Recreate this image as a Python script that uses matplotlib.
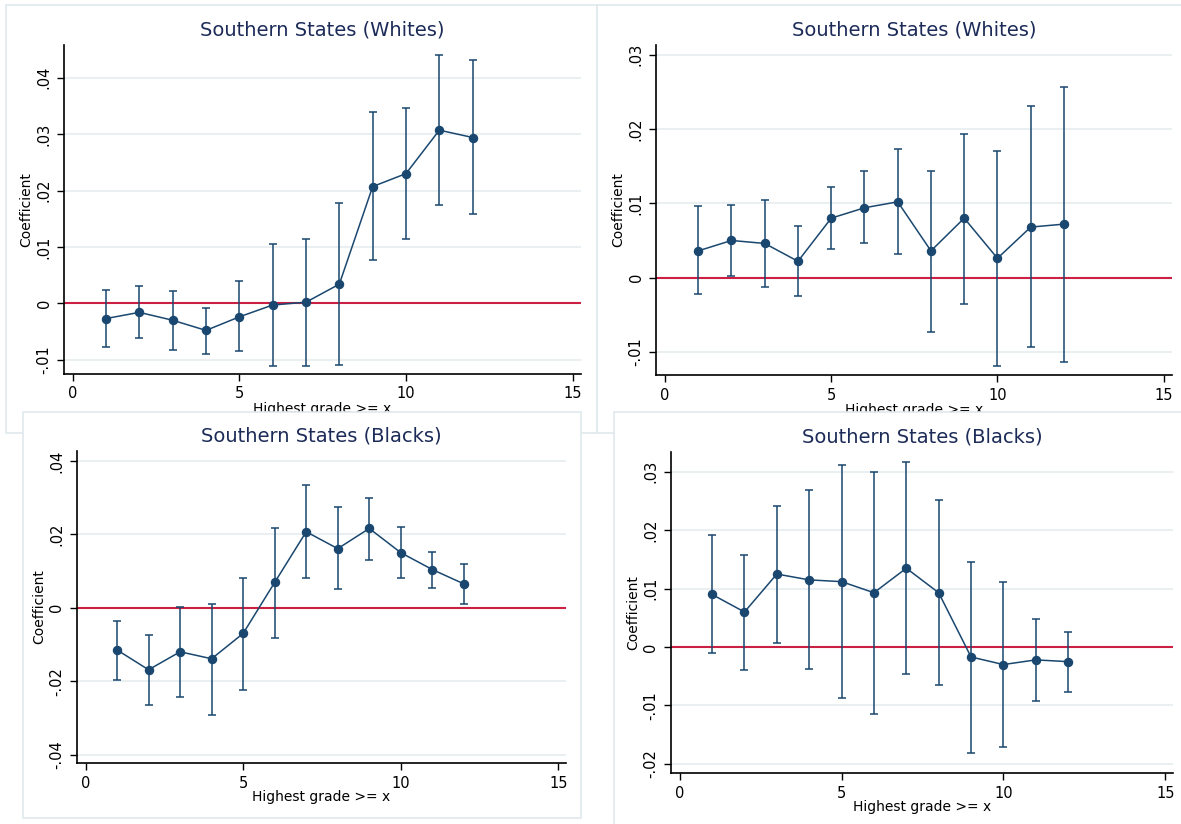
import matplotlib
matplotlib.use("Agg")
import matplotlib.pyplot as plt
from matplotlib.patches import Rectangle

# ---------------- data ----------------
grades = [1, 2, 3, 4, 5, 6, 7, 8, 9, 10, 11, 12]

# top-left: Southern States (Whites)
tl_coef = [-0.0027, -0.0016, -0.0030, -0.0048, -0.0024, -0.0003, 0.0002, 0.0034, 0.0207, 0.0230, 0.0307, 0.0294]
tl_hi   = [0.0024, 0.0030, 0.0021, -0.0008, 0.0040, 0.0106, 0.0114, 0.0178, 0.0339, 0.0347, 0.0440, 0.0432]
tl_lo   = [-0.0077, -0.0061, -0.0082, -0.0090, -0.0085, -0.0111, -0.0111, -0.0109, 0.0077, 0.0114, 0.0175, 0.0159]

# top-right: Southern States (Whites)
tr_coef = [0.0036, 0.0050, 0.0046, 0.0022, 0.0080, 0.0094, 0.0102, 0.0036, 0.0080, 0.0026, 0.0068, 0.0072]
tr_hi   = [0.0096, 0.0098, 0.0104, 0.0070, 0.0122, 0.0144, 0.0173, 0.0144, 0.0193, 0.0170, 0.0231, 0.0257]
tr_lo   = [-0.0022, 0.0002, -0.0012, -0.0025, 0.0038, 0.0046, 0.0032, -0.0073, -0.0035, -0.0119, -0.0093, -0.0113]

# bottom-left: Southern States (Blacks)
bl_coef = [-0.0115, -0.0169, -0.0120, -0.0139, -0.0070, 0.0069, 0.0207, 0.0161, 0.0216, 0.0150, 0.0104, 0.0065]
bl_hi   = [-0.0035, -0.0074, 0.0003, 0.0011, 0.0081, 0.0216, 0.0334, 0.0274, 0.0300, 0.0219, 0.0153, 0.0120]
bl_lo   = [-0.0197, -0.0266, -0.0243, -0.0293, -0.0223, -0.0082, 0.0081, 0.0050, 0.0130, 0.0081, 0.0053, 0.0011]

# bottom-right: Southern States (Blacks)
br_coef = [0.0090, 0.0060, 0.0125, 0.0115, 0.0112, 0.0093, 0.0135, 0.0093, -0.0017, -0.0030, -0.0022, -0.0025]
br_hi   = [0.0192, 0.0157, 0.0242, 0.0269, 0.0312, 0.0300, 0.0317, 0.0252, 0.0145, 0.0112, 0.0048, 0.0026]
br_lo   = [-0.0010, -0.0039, 0.0007, -0.0037, -0.0087, -0.0114, -0.0047, -0.0065, -0.0182, -0.0171, -0.0092, -0.0077]

title_whites = "Southern States (Whites)"
title_blacks = "Southern States (Blacks)"
xlabel_text = "Highest grade >= x"
ylabel_text = "Coefficient"

xtick_vals = [0, 5, 10, 15]
xtick_labels = ["0", "5", "10", "15"]

tl_yticks = [-0.01, 0, 0.01, 0.02, 0.03, 0.04]
tl_ylabels = ["-.01", "0", ".01", ".02", ".03", ".04"]
tr_yticks = [-0.01, 0, 0.01, 0.02, 0.03]
tr_ylabels = ["-.01", "0", ".01", ".02", ".03"]
bl_yticks = [-0.04, -0.02, 0, 0.02, 0.04]
bl_ylabels = ["-.04", "-.02", "0", ".02", ".04"]
br_yticks = [-0.02, -0.01, 0, 0.01, 0.02, 0.03]
br_ylabels = ["-.02", "-.01", "0", ".01", ".02", ".03"]

# ---------------- style ----------------
W, H = 1181, 824
NAVY = "#1a476f"
TITLE_C = "#1c2b58"
RED = "#cc1f44"
GRID_C = "#e8eff1"
BOX_C = "#e0e9ed"

plt.rcParams["font.family"] = ["DejaVu Sans"]

fig = plt.figure(figsize=(W / 100, H / 100), dpi=100)
fig.patch.set_facecolor("white")


def fbox(x0, y0, x1, y1):
    """pixel box (top-left origin) -> figure fraction [l, b, w, h]"""
    return [x0 / W, 1 - y1 / H, (x1 - x0) / W, (y1 - y0) / H]


def panel_frame(x0, y0, x1, y1, z):
    l, b, w, h = fbox(x0, y0, x1, y1)
    r = Rectangle((l, b), w, h, transform=fig.transFigure, facecolor="white",
                  edgecolor=BOX_C, linewidth=1.2, zorder=z)
    fig.add_artist(r)


def make_panel(rect, z, coef, lo, hi, yticks, ylabels, xlim, ylim, title):
    ax = fig.add_axes(fbox(*rect))
    ax.set_zorder(z)
    ax.set_facecolor("white")
    for yv in yticks:
        ax.axhline(yv, color=GRID_C, lw=1.3, zorder=0)
    ax.axhline(0, color=RED, lw=1.5, zorder=1)
    yerr = [[c - l for c, l in zip(coef, lo)], [h - c for c, h in zip(coef, hi)]]
    ax.errorbar(grades, coef, yerr=yerr, fmt="none", ecolor=NAVY, elinewidth=1.1,
                capsize=3, capthick=1.1, zorder=2)
    ax.plot(grades, coef, color=NAVY, lw=1.1, marker="o", ms=5.8, zorder=3)
    ax.set_xlim(*xlim)
    ax.set_ylim(*ylim)
    ax.set_xticks(xtick_vals)
    ax.set_xticklabels(xtick_labels)
    ax.set_yticks(yticks)
    ax.set_yticklabels(ylabels, rotation=90, va="center")
    ax.tick_params(axis="both", labelsize=10.5, length=5, width=1, color="black", pad=4)
    for s in ["top", "right"]:
        ax.spines[s].set_visible(False)
    for s in ["left", "bottom"]:
        ax.spines[s].set_linewidth(1.2)
    ax.set_xlabel(xlabel_text, fontsize=10, labelpad=0)
    ax.set_ylabel(ylabel_text, fontsize=10, labelpad=2)
    ax.set_title(title, fontsize=14, color=TITLE_C, pad=7)
    return ax


# top panels
panel_frame(6, 5, 597, 433, 0.5)
panel_frame(597, 5, 1190, 433, 0.5)
make_panel((64, 45, 581, 374), 1, tl_coef, tl_lo, tl_hi, tl_yticks, tl_ylabels,
           (-0.26, 15.25), (-0.01253, 0.0458), title_whites)
make_panel((656, 45, 1172, 375), 1, tr_coef, tr_lo, tr_hi, tr_yticks, tr_ylabels,
           (-0.27, 15.25), (-0.0131, 0.0313), title_whites)

# bottom panels (overlap the top ones)
panel_frame(23, 412, 581, 818, 2)
panel_frame(614, 412, 1190, 830, 2)
make_panel((77, 451, 566, 763), 3, bl_coef, bl_lo, bl_hi, bl_yticks, bl_ylabels,
           (-0.27, 15.24), (-0.0423, 0.0427), title_blacks)
make_panel((671, 452, 1173, 773), 3, br_coef, br_lo, br_hi, br_yticks, br_ylabels,
           (-0.27, 15.24), (-0.02157, 0.0334), title_blacks)

fig.savefig("out.png", dpi=100, facecolor="white")
